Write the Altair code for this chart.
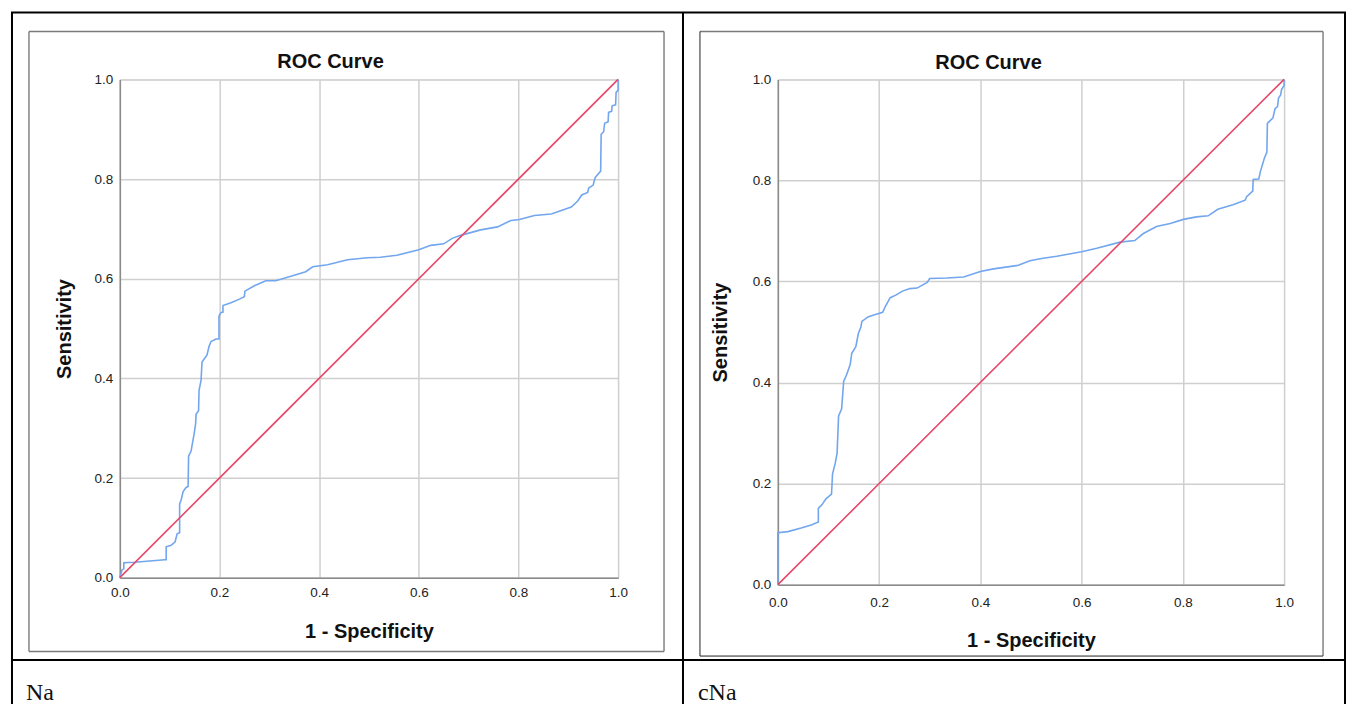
import altair as alt
import pandas as pd

# ---------------- data ----------------
ticks = [0.0, 0.2, 0.4, 0.6, 0.8, 1.0]
diag_x = [0.0, 1.0]
diag_y = [0.0, 1.0]
captions = ["Na", "cNa"]
chart_title = "ROC Curve"
x_title = "1 - Specificity"
y_title = "Sensitivity"

na_fpr = [0, 0.004, 0.008, 0.008, 0.03, 0.09, 0.093, 0.093, 0.103, 0.111,
          0.115, 0.12, 0.12, 0.123, 0.127, 0.133, 0.137, 0.138, 0.143, 0.149,
          0.152, 0.153, 0.158, 0.159, 0.163, 0.165, 0.175, 0.179, 0.183, 0.193,
          0.199, 0.199, 0.203, 0.207, 0.207, 0.223, 0.24, 0.25, 0.251, 0.27,
          0.293, 0.313, 0.35, 0.373, 0.387, 0.417, 0.457, 0.497, 0.523, 0.556,
          0.6, 0.624, 0.65, 0.667, 0.684, 0.724, 0.758, 0.785, 0.802, 0.832,
          0.866, 0.906, 0.919, 0.927, 0.939, 0.941, 0.95, 0.954, 0.965, 0.966,
          0.971, 0.973, 0.98, 0.981, 0.987, 0.988, 0.995, 0.996, 1.0, 1.0]
na_tpr = [0, 0.015, 0.018, 0.03, 0.031, 0.036, 0.036, 0.062, 0.065, 0.072,
          0.088, 0.09, 0.148, 0.156, 0.173, 0.181, 0.183, 0.244, 0.254, 0.288,
          0.308, 0.328, 0.335, 0.376, 0.396, 0.433, 0.447, 0.464, 0.474, 0.479,
          0.479, 0.525, 0.532, 0.533, 0.546, 0.552, 0.559, 0.564, 0.575, 0.586,
          0.596, 0.596, 0.607, 0.614, 0.624, 0.628, 0.638, 0.642, 0.643, 0.647,
          0.658, 0.667, 0.670, 0.681, 0.687, 0.698, 0.704, 0.717, 0.719, 0.727,
          0.730, 0.744, 0.756, 0.768, 0.773, 0.782, 0.788, 0.803, 0.816, 0.89,
          0.895, 0.912, 0.915, 0.934, 0.936, 0.947, 0.949, 0.974, 0.978, 1.0]

cna_fpr = [0, 0, 0.02, 0.046, 0.066, 0.08, 0.08, 0.087, 0.095, 0.106,
           0.108, 0.113, 0.117, 0.12, 0.126, 0.13, 0.136, 0.143, 0.146, 0.154,
           0.159, 0.164, 0.166, 0.178, 0.191, 0.207, 0.213, 0.222, 0.233, 0.246,
           0.261, 0.275, 0.295, 0.3, 0.334, 0.367, 0.4, 0.426, 0.475, 0.498,
           0.518, 0.551, 0.6, 0.63, 0.676, 0.705, 0.722, 0.748, 0.775, 0.801,
           0.827, 0.85, 0.869, 0.899, 0.923, 0.926, 0.938, 0.939, 0.95, 0.953,
           0.961, 0.966, 0.967, 0.978, 0.982, 0.987, 0.989, 0.993, 0.995, 1.0, 1.0]
cna_tpr = [0, 0.103, 0.105, 0.112, 0.118, 0.124, 0.151, 0.158, 0.17, 0.179,
           0.219, 0.239, 0.26, 0.334, 0.348, 0.402, 0.416, 0.436, 0.458, 0.471,
           0.497, 0.51, 0.521, 0.53, 0.534, 0.539, 0.552, 0.568, 0.573, 0.581,
           0.586, 0.587, 0.598, 0.606, 0.607, 0.609, 0.62, 0.625, 0.632, 0.641,
           0.645, 0.65, 0.659, 0.666, 0.678, 0.681, 0.695, 0.709, 0.715, 0.723,
           0.728, 0.73, 0.743, 0.752, 0.761, 0.768, 0.779, 0.802, 0.803, 0.817,
           0.844, 0.856, 0.913, 0.924, 0.942, 0.946, 0.963, 0.969, 0.98, 0.988, 1.0]

# ---------------- styling ----------------
BLUE = "#72a6ee"
RED = "#e6486a"
SANS = "Liberation Sans"
SERIF = "Liberation Serif"
ONE = pd.DataFrame({"k": [0]})


def rule(x1, y1, x2, y2, color="#000000", width=2.0):
    return alt.Chart(ONE).mark_rule(color=color, strokeWidth=width).encode(
        x=alt.value(x1), y=alt.value(y1), x2=alt.value(x2), y2=alt.value(y2))


def label(text, xpos, ypos, font, size, weight="normal", align="left"):
    df = pd.DataFrame({"t": [text]})
    return alt.Chart(df).mark_text(
        font=font, fontSize=size, fontWeight=weight, color="#111111",
        align=align, baseline="alphabetic").encode(
        x=alt.value(xpos), y=alt.value(ypos), text="t:N")


def roc_panel(fpr, tpr, w, h, lab_pad_x, title_pad_x, title_pad_y, title_y, extra):
    curve = pd.DataFrame({"fpr": fpr, "tpr": tpr, "i": list(range(len(fpr)))})
    diag = pd.DataFrame({"fpr": diag_x, "tpr": diag_y, "i": [0, 1]})
    sc = alt.Scale(domain=[0, 1], nice=False, zero=False)
    common = dict(values=ticks, format=".1f", grid=True, gridColor="#cfcfcf",
                  gridWidth=1.5, domainColor="#8a8a8a", domainWidth=1.5,
                  ticks=False, labelFont=SANS, labelFontSize=13.5,
                  labelColor="#222222", labelOverlap=False, labelFlush=False,
                  titleFont=SANS, titleFontSize=20, titleFontWeight="bold",
                  titleColor="#111111")
    xax = alt.Axis(title=x_title, labelPadding=lab_pad_x,
                   titlePadding=title_pad_x, **common)
    yax = alt.Axis(title=y_title, labelPadding=7,
                   titlePadding=title_pad_y, **common)
    ref = alt.Chart(diag).mark_line(color=RED, strokeWidth=1.6).encode(
        x=alt.X("fpr:Q", scale=sc, axis=xax),
        y=alt.Y("tpr:Q", scale=sc, axis=yax),
        order="i:Q")
    roc = alt.Chart(curve).mark_line(color=BLUE, strokeWidth=1.6).encode(
        x=alt.X("fpr:Q", scale=sc, axis=xax),
        y=alt.Y("tpr:Q", scale=sc, axis=yax),
        order="i:Q")
    head = label(chart_title, 211, title_y, SANS, 20, "bold", "center")
    return alt.layer(*extra, head, roc, ref).properties(width=w, height=h)


# decorations, positioned relative to the left plot origin
GRAY = "#7a7a7a"
DARK = "#222222"
deco = [
    # table borders
    rule(-109, -67, 1228, -67),
    rule(-108, -67, -108, 626),
    rule(564, -67, 564, 626),
    rule(1227, -67, 1227, 626),
    rule(-108, 581.5, 1228, 581.5),
    # left chart frame
    rule(-91, -48, 545, -48, GRAY, 1.4),
    rule(-91, -48, -91, 573, GRAY, 1.4),
    rule(545, -48, 545, 573, GRAY, 1.4),
    rule(-91, 573, 545, 573, GRAY, 1.4),
    # right chart frame
    rule(581, -48, 1205, -48, GRAY, 1.4),
    rule(1205, -48, 1205, 577.5, GRAY, 1.4),
    rule(581, -48, 581, 577.5, DARK, 1.0),
    rule(581, 577.5, 1205, 577.5, DARK, 1.0),
    # captions
    label(captions[0], -94, 622, SERIF, 24),
    label(captions[1], 579, 622, SERIF, 24),
]

left = roc_panel(na_fpr, na_tpr, 499, 499, 8, 22, 20, -11, deco)
right = roc_panel(cna_fpr, cna_tpr, 507, 506, 11, 21, 22, -10.5, [])

chart = alt.hconcat(left, right, spacing=160, bounds="flush").properties(
    padding={"left": 1, "top": 2, "right": 0, "bottom": 0}
).configure_view(stroke="#cfcfcf", strokeWidth=1.5).configure(background="white")

chart.save("out.html", embed_options={"renderer": "svg", "actions": False})
